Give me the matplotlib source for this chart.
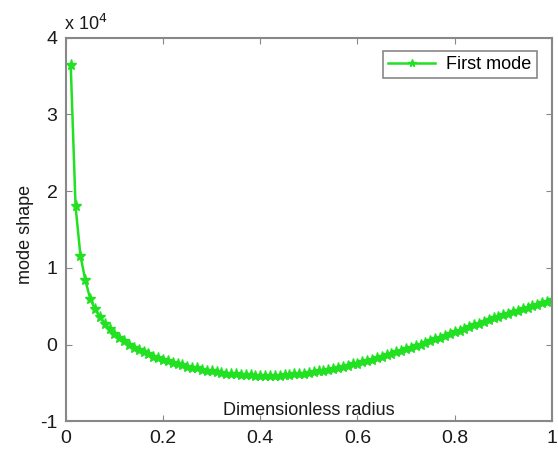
import numpy as np
import matplotlib.pyplot as plt

plt.rcParams['font.family'] = ['Liberation Sans', 'DejaVu Sans']
plt.rcParams['axes.unicode_minus'] = False

# dimensionless radius and first mode shape (units of 1e4)
radius = np.round(np.arange(1, 101) * 0.01, 2)
mode_shape = [
    3.65, 1.80, 1.16, 0.84, 0.60, 0.46, 0.36, 0.27, 0.20, 0.14,
    0.09, 0.04, 0.00, -0.04, -0.07, -0.10, -0.13, -0.16, -0.18, -0.20,
    -0.22, -0.24, -0.26, -0.27, -0.29, -0.30, -0.31, -0.33, -0.34, -0.35,
    -0.36, -0.37, -0.38, -0.38, -0.39, -0.40, -0.40, -0.40, -0.41, -0.41,
    -0.41, -0.41, -0.41, -0.41, -0.40, -0.40, -0.39, -0.39, -0.38, -0.37,
    -0.36, -0.35, -0.34, -0.33, -0.32, -0.31, -0.29, -0.28, -0.26, -0.25,
    -0.23, -0.22, -0.20, -0.18, -0.16, -0.14, -0.12, -0.10, -0.08, -0.06,
    -0.04, -0.02, 0.00, 0.02, 0.05, 0.07, 0.09, 0.11, 0.14, 0.16,
    0.18, 0.20, 0.23, 0.25, 0.27, 0.29, 0.32, 0.34, 0.36, 0.38,
    0.40, 0.42, 0.44, 0.46, 0.48, 0.50, 0.52, 0.54, 0.56, 0.58,
]
x_ticks = [0, 0.2, 0.4, 0.6, 0.8, 1]
x_labels = ['0', '0.2', '0.4', '0.6', '0.8', '1']
y_ticks = [-1, 0, 1, 2, 3, 4]

fig = plt.figure(figsize=(5.58, 4.5), dpi=100)
ax = fig.add_axes([0.118, 0.064, 0.871, 0.852])

green = '#22e022'
ax.plot(radius, mode_shape, color=green, lw=1.8, marker='*', ms=8,
        label='First mode')

ax.set_xlim(0, 1)
ax.set_ylim(-1, 4)
ax.set_xticks(x_ticks)
ax.set_xticklabels(x_labels)
ax.set_yticks(y_ticks)
ax.tick_params(direction='in', top=True, right=True, labelsize=14,
               length=4, color='#888888', labelcolor='#1a1a1a', pad=6)
for s in ax.spines.values():
    s.set_color('#888888')
    s.set_linewidth(1.5)

ax.text(0.5, 0.005, 'Dimensionless radius', transform=ax.transAxes,
        ha='center', va='bottom', fontsize=13, color='#1a1a1a')
fig.text(0.045, 0.48, 'mode shape', rotation=90, ha='center', va='center',
         fontsize=13, color='#1a1a1a')
fig.text(0.115, 0.925, r'x 10$^4$', ha='left', va='bottom', fontsize=13,
         color='#1a1a1a')

leg = ax.legend(loc='upper right', fontsize=13, fancybox=False,
                borderpad=0.3, handlelength=2.6, handletextpad=0.6,
                markerscale=0.7, framealpha=1,
                bbox_to_anchor=(0.987, 0.99))
leg.get_frame().set_edgecolor('#888888')
leg.get_frame().set_linewidth(1.2)

fig.savefig('out.png', dpi=100)
